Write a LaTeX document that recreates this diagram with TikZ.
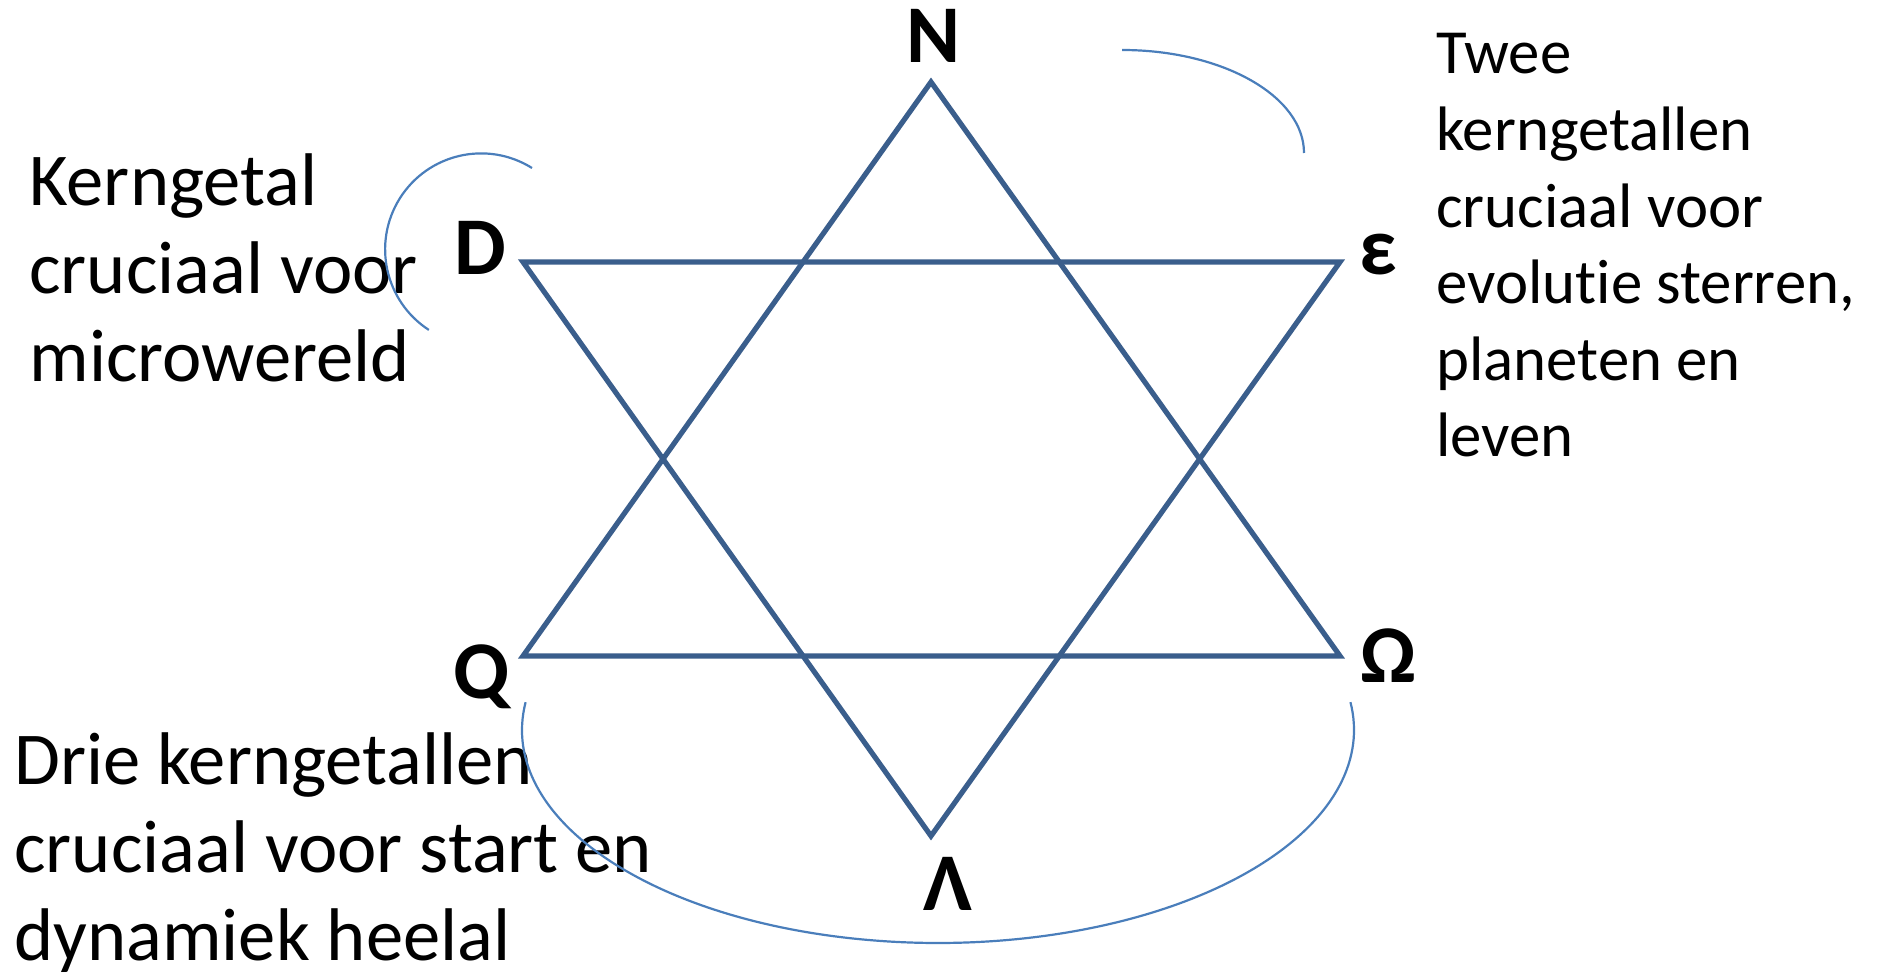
\documentclass[tikz,border=0pt]{standalone}
\usepackage{fontspec}
\setmainfont[Ligatures=NoCommon]{Carlito}
\definecolor{starblue}{HTML}{3A5E8C}
\definecolor{arcblue}{HTML}{4A7EBB}
\begin{document}
\begin{tikzpicture}[x=0.5pt,y=0.5pt,
  star/.style={draw=starblue, line width=2.6pt, line join=miter},
  arcline/.style={draw=arcblue, line width=1.1pt},
  lbl/.style={font=\fontsize{41}{49}\selectfont\bfseries, inner sep=0pt, anchor=base},
  bigtxt/.style={font=\fontsize{37.3}{44}\selectfont, align=left, inner sep=0pt, anchor=base west},
  smalltxt/.style={font=\fontsize{31.4}{38.3}\selectfont, align=left, inner sep=0pt, anchor=base west}]
\useasboundingbox (0,0) rectangle (1881,976);
% star vertices
\coordinate (vN) at (931,894);
\coordinate (vL) at (931,140);
\coordinate (vD) at (523,714);
\coordinate (vE) at (1340,714);
\coordinate (vQ) at (523,320);
\coordinate (vO) at (1340,320);
\draw[star] (vN) -- (vQ) -- (vO) -- cycle;
\draw[star] (vD) -- (vE) -- (vL) -- cycle;
% labels
\node[lbl] (lN) at (933,913) {N};
\node[lbl] (lD) at (480,701) {D};
\node[lbl] (lE) at (1378,701) {ε};
\node[lbl] (lQ) at (482,278) {Q};
\node[lbl] (lO) at (1388,293) {Ω};
\node[lbl] (lL) at (948,66) {Λ};
% texts
\node[bigtxt] (tD) at (29,594) {Kerngetal\\cruciaal voor\\microwereld};
\node[smalltxt] (tE) at (1436,519) {Twee\\kerngetallen\\cruciaal voor\\evolutie sterren,\\planeten en\\leven};
\node[bigtxt] (tQ) at (14,16) {Drie kerngetallen\\cruciaal voor start en\\dynamiek heelal};
% arcs
\coordinate (aD) at (532,808);
\draw[arcline] (aD) arc[start angle=58, end angle=237, radius=48pt];
\coordinate (aE) at (1122,926);
\draw[arcline] (aE) arc[start angle=90, end angle=0, x radius=91pt, y radius=51.5pt];
\coordinate (aQ) at (525.6,273.8);
\draw[arcline] (aQ) arc[start angle=172.5, end angle=367.5, x radius=208pt, y radius=106.5pt];
\end{tikzpicture}
\end{document}
